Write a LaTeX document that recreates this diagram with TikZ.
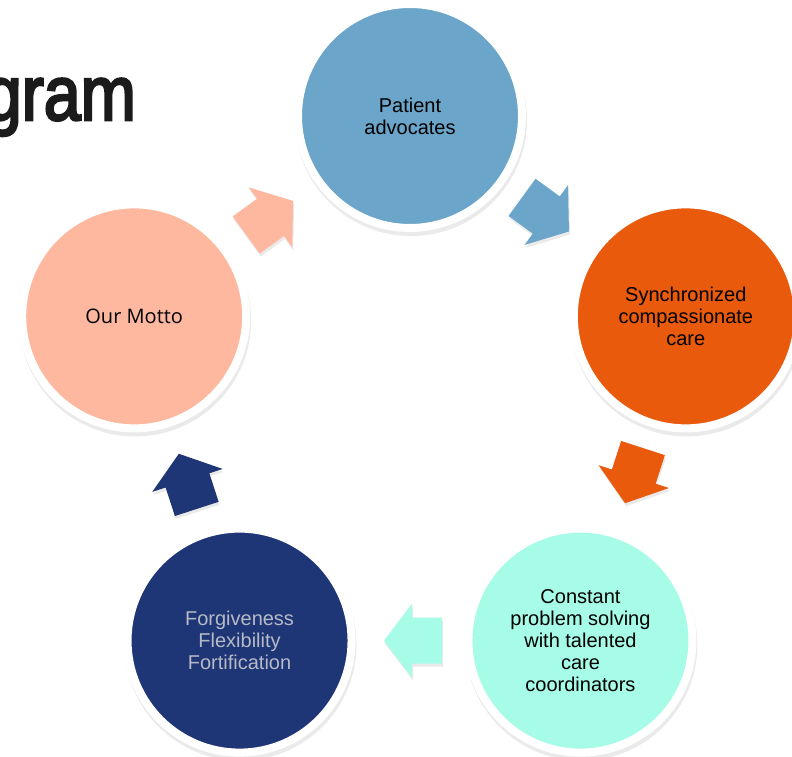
\documentclass[tikz,border=0pt]{standalone}
\usepackage{fontspec}
\setmainfont{Liberation Sans}
\newfontfamily\mottofont{Open Sans}
\newfontfamily\titlefont[FakeBold=3.5]{Liberation Sans}
\usetikzlibrary{calc,shadows}
\definecolor{cPat}{HTML}{6BA5C9}
\definecolor{cSyn}{HTML}{E95A0C}
\definecolor{cCon}{HTML}{A6FCE6}
\definecolor{cFor}{HTML}{1E3576}
\definecolor{cMot}{HTML}{FEB8A0}
\definecolor{cForText}{HTML}{B5BAC6}
\definecolor{cTitle}{HTML}{1B1B1B}
\begin{document}
\begin{tikzpicture}[x=1pt,y=1pt,
  bubble/.style={circle, minimum size=224pt, inner sep=0pt, draw=white, line width=8pt,
    fill=#1, align=center, font=\fontsize{20}{22}\selectfont,
    drop shadow={opacity=0.16, shadow scale=1.035, shadow xshift=1pt, shadow yshift=-4pt}},
  cyclearrow/.style={fill=#1, drop shadow={opacity=0.16, shadow xshift=1pt, shadow yshift=-3pt}}]
\fill[white] (0,0) rectangle (792,757);
\useasboundingbox (0,0) rectangle (792,757);
\node[anchor=base east, font=\titlefont\fontsize{77}{80}\selectfont, text=cTitle, xscale=0.86, inner sep=0pt] (title) at (136,637) {gram};
\coordinate (C) at (410,351);
\node[bubble=cPat] (pa) at ($(C)+(90:290)$) {Patient\\advocates};
\node[bubble=cSyn] (sy) at ($(C)+(18:290)$) {Synchronized\\compassionate\\care};
\node[bubble=cCon] (co) at ($(C)+(-54:290)$) {Constant\\problem solving\\with talented\\care\\coordinators};
\node[bubble=cFor, text=cForText] (fo) at ($(C)+(-126:290)$) {Forgiveness\\Flexibility\\Fortification};
\node[bubble=cMot, font=\mottofont\fontsize{20}{22}\selectfont] (mo) at ($(C)+(162:290)$) {Our Motto};
\foreach \a/\b/\ang/\col in {mo/pa/36/cMot, pa/sy/-36/cPat, sy/co/-108/cSyn, co/fo/180/cCon, fo/mo/108/cFor}{
  \begin{scope}[shift={($(\a)!0.5!(\b)$)}, rotate=\ang]
    \path[cyclearrow=\col] (-32,23) -- (-2,23) -- (-2,37) -- (26,0) -- (-2,-37) -- (-2,-23) -- (-32,-23) -- cycle;
  \end{scope}
}
\end{tikzpicture}
\end{document}
